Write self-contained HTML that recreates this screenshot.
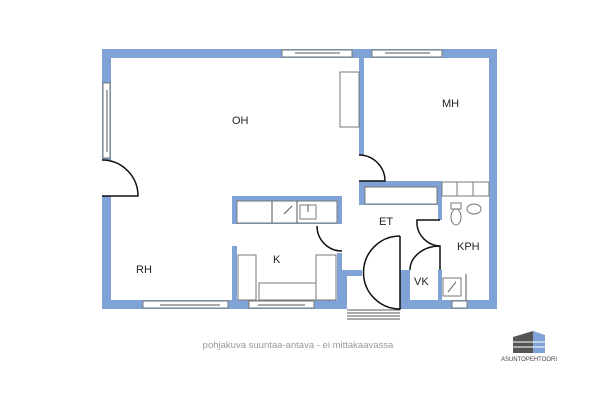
<!DOCTYPE html>
<html><head><style>body{margin:0;background:#fff}svg{display:block}</style></head><body>
<svg width="600" height="400" viewBox="0 0 600 400" xmlns="http://www.w3.org/2000/svg" font-family="Liberation Sans, sans-serif">
<g fill="#7fa3d6">
<rect x="102" y="49" width="395" height="9"/>
<rect x="102" y="49" width="9" height="111"/>
<rect x="102" y="196" width="9" height="113"/>
<rect x="489" y="49" width="8" height="260"/>
<rect x="102" y="300" width="245" height="9"/>
<rect x="400" y="300" width="97" height="9"/>
<rect x="359" y="58" width="5" height="97"/>
<rect x="359" y="181" width="83" height="24"/>
<rect x="232" y="196" width="110" height="28"/>
<rect x="232" y="246" width="5" height="54"/>
<rect x="337" y="253" width="5" height="47"/>
<rect x="337" y="270" width="25" height="6"/>
<rect x="342" y="270" width="5" height="39"/>
<rect x="438" y="196" width="4" height="24"/>
<rect x="400" y="270" width="10" height="39"/>
<rect x="438" y="270" width="4" height="39"/>
</g>
<g fill="#fff" stroke="#777" stroke-width="1">
<rect x="282" y="50" width="70" height="7"/>
<rect x="372" y="50" width="70" height="7"/>
<rect x="103" y="83" width="7" height="75"/>
<rect x="143" y="301" width="85" height="7"/>
<rect x="249" y="301" width="65" height="7"/>
<rect x="452" y="301" width="15" height="7"/>
<rect x="340" y="72" width="19" height="55"/>
<rect x="365" y="187" width="72" height="17"/>
<rect x="442" y="182" width="15" height="14"/>
<rect x="457" y="182" width="16" height="14"/>
<rect x="473" y="182" width="16" height="14"/>
<rect x="237" y="201" width="100" height="22"/>
<rect x="238" y="255" width="18" height="45"/>
<rect x="316" y="255" width="20" height="45"/>
<rect x="259" y="283" width="57" height="17"/>
<rect x="300" y="205" width="16" height="14"/>
<rect x="443" y="278" width="18" height="18"/>
<ellipse cx="456" cy="217" rx="5" ry="8"/>
<rect x="451" y="203" width="10" height="6"/>
<ellipse cx="474" cy="209" rx="7" ry="5"/>
</g>
<g stroke="#555" stroke-width="1" fill="none">
<line x1="272" y1="201" x2="272" y2="223"/>
<line x1="297" y1="201" x2="297" y2="223"/>
<line x1="466" y1="274" x2="466" y2="300"/>
<line x1="284" y1="214" x2="292" y2="206"/>
<line x1="448" y1="292" x2="456" y2="282"/>
<line x1="308" y1="205" x2="308" y2="212"/>
</g>
<g stroke="#555" stroke-width="1">
<line x1="160" y1="305" x2="220" y2="305"/>
<line x1="258" y1="305" x2="305" y2="305"/>
<line x1="295" y1="53" x2="340" y2="53"/>
<line x1="385" y1="53" x2="430" y2="53"/>
<line x1="107" y1="90" x2="107" y2="152"/>
<line x1="347" y1="310" x2="400" y2="310"/>
<line x1="347" y1="313" x2="400" y2="313"/>
<line x1="347" y1="316" x2="400" y2="316"/>
<line x1="347" y1="319" x2="400" y2="319"/>
</g>
<g stroke="#111" stroke-width="1.5" fill="none">
<path d="M102 160 A36 36 0 0 1 138 196 L102 196"/>
<path d="M359 155 A26 26 0 0 1 385 181 L359 181"/>
<path d="M317 226 A25 25 0 0 0 342 251"/>
<path d="M400 236 L400 309 A36.5 36.5 0 0 1 400 236"/>
<path d="M440 220 L417 220 A24 24 0 0 0 440 246"/>
<path d="M410 270 A30 24 0 0 1 440 246 L440 270"/>
</g>
<g font-size="11" fill="#222">
<text x="232" y="124">OH</text>
<text x="442" y="107">MH</text>
<text x="379" y="225">ET</text>
<text x="457" y="250">KPH</text>
<text x="273" y="263">K</text>
<text x="414" y="285">VK</text>
<text x="136" y="273">RH</text>
</g>
<text x="298" y="348" font-size="9.5" fill="#999" text-anchor="middle">pohjakuva suuntaa-antava - ei mittakaavassa</text>
<g>
<polygon points="513,337 533,331 533,353 513,353" fill="#555"/>
<polygon points="533,331 545,335 545,353 533,353" fill="#7fa3d6"/>
<g stroke="#fff" stroke-width="1"><line x1="513" y1="342" x2="545" y2="342"/><line x1="513" y1="347" x2="545" y2="347"/></g>
<text x="529" y="361" font-size="6" fill="#444" text-anchor="middle">ASUNTOPEHTOORI</text>
</g>
</svg>
</body></html>
